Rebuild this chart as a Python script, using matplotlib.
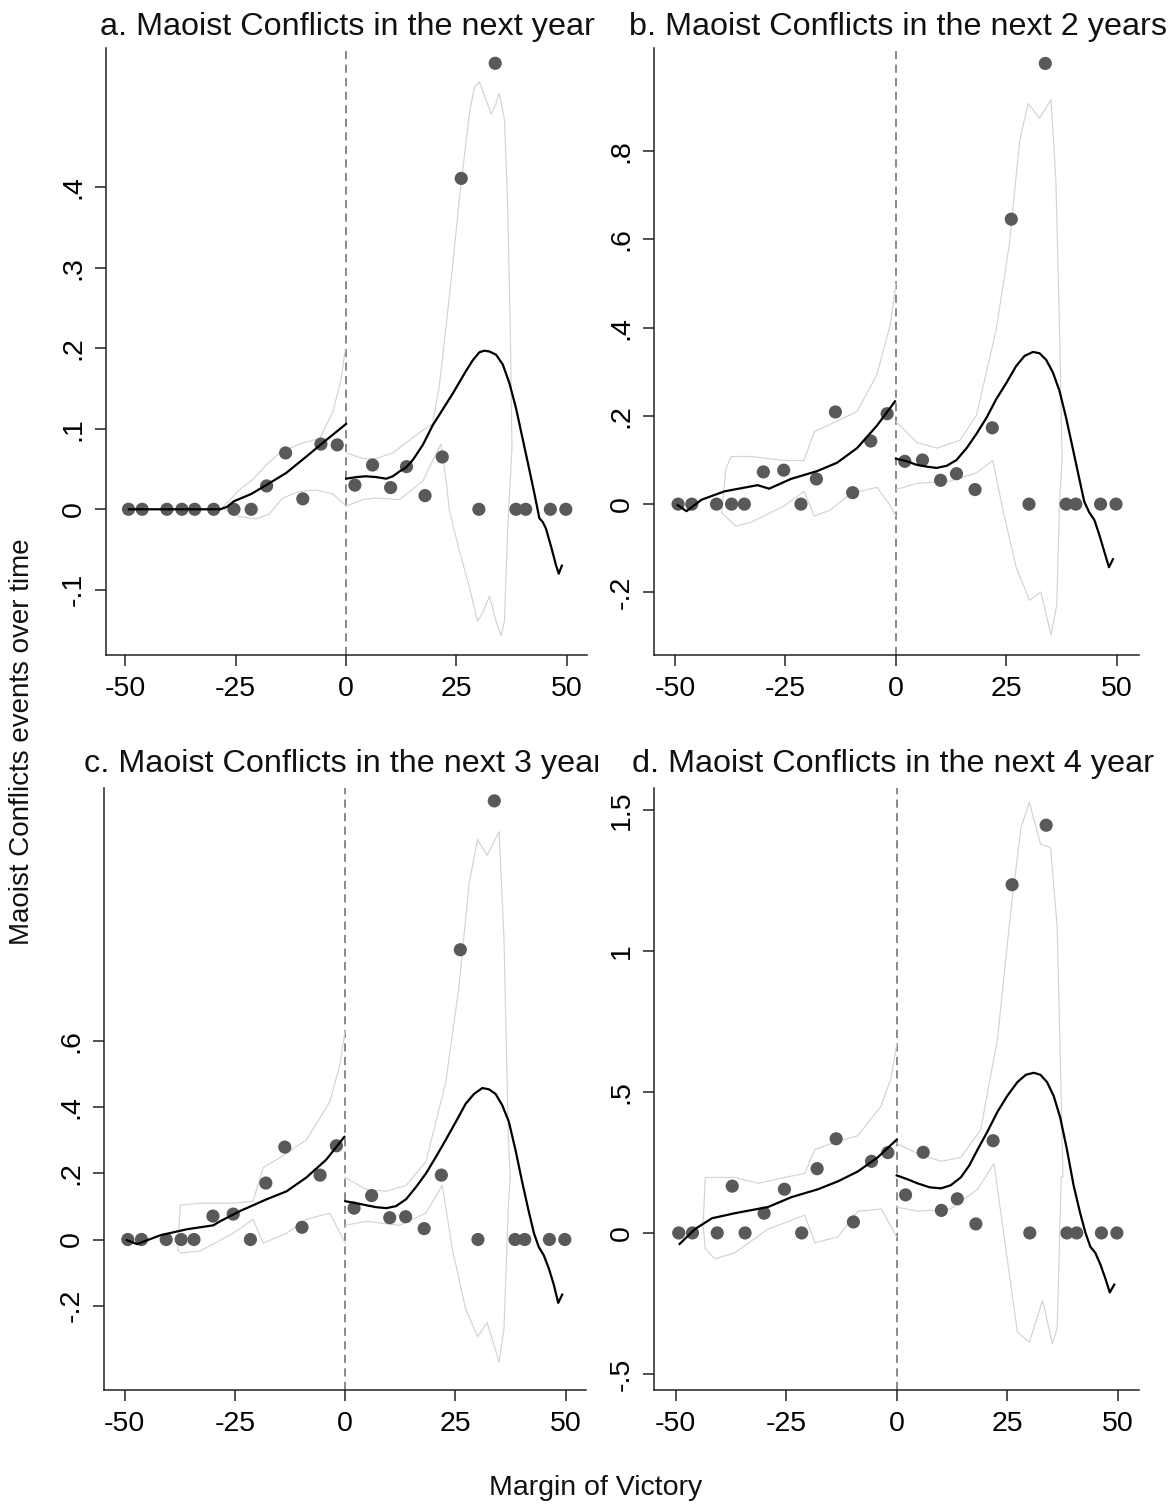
import matplotlib
matplotlib.use("Agg")
import matplotlib.pyplot as plt
from matplotlib.transforms import Bbox, TransformedBbox

plt.rcParams['font.family'] = ['Liberation Sans', 'DejaVu Sans']

# bin centres of the margin of victory (same bins in every panel)
bins_left = [-49.3, -46.2, -40.6, -37.2, -34.3, -30.0, -25.4, -21.5, -18.0, -13.7, -9.8, -5.7, -2.0]
bins_right = [2.0, 6.0, 10.1, 13.7, 17.9, 21.8, 26.1, 30.1, 33.8, 38.5, 40.7, 46.3, 49.8]

# bin means
a_left = [0, 0, 0, 0, 0, 0, 0, 0, 0.029, 0.070, 0.013, 0.081, 0.080]
a_right = [0.030, 0.055, 0.027, 0.053, 0.017, 0.065, 0.411, 0, 0.554, 0, 0, 0, 0]
b_left = [0, 0, 0, 0, 0, 0.073, 0.077, 0, 0.057, 0.209, 0.026, 0.143, 0.205]
b_right = [0.097, 0.100, 0.054, 0.069, 0.033, 0.173, 0.646, 0, 0.999, 0, 0, 0, 0]
c_left = [0, 0, 0, 0, 0, 0.071, 0.077, 0, 0.171, 0.280, 0.037, 0.195, 0.284]
c_right = [0.095, 0.133, 0.066, 0.069, 0.033, 0.195, 0.878, 0, 1.329, 0, 0, 0, 0]
d_left = [0, 0, 0, 0.166, 0, 0.070, 0.155, 0, 0.228, 0.334, 0.039, 0.254, 0.285]
d_right = [0.135, 0.286, 0.080, 0.121, 0.032, 0.327, 1.235, 0, 1.446, 0, 0, 0, 0]

# fitted polynomial, (x, y)
a_fit_l = [(-49.2, 0), (-28.5, 0), (-27, 0.003), (-25.4, 0.010), (-21.5, 0.019), (-18.1, 0.030),
           (-13.6, 0.045), (-9.1, 0.065), (-4.5, 0.086), (0, 0.106)]
a_fit_r = [(0, 0.038), (2.3, 0.040), (4.5, 0.041), (6.8, 0.040), (9.1, 0.038), (10.6, 0.041),
           (12.1, 0.047), (13.6, 0.052), (15.1, 0.061), (17.4, 0.080), (19.6, 0.104), (21.9, 0.124),
           (24.2, 0.144), (25.7, 0.158), (27.2, 0.172), (28.7, 0.185), (30.2, 0.195), (31.3, 0.197),
           (32.5, 0.196), (34.0, 0.192), (35.5, 0.180), (37.0, 0.157), (38.5, 0.126), (40.0, 0.088),
           (41.5, 0.050), (42.7, 0.019), (43.8, -0.011), (44.6, -0.016), (45.3, -0.024),
           (46.5, -0.047), (47.6, -0.070), (48.2, -0.080), (48.9, -0.070)]
b_fit_l = [(-49.4, -0.002), (-47.4, -0.016), (-44, 0.010), (-38.8, 0.029), (-31.3, 0.043),
           (-28.7, 0.035), (-23.8, 0.057), (-17.8, 0.075), (-13.3, 0.094), (-8.8, 0.127),
           (-4.3, 0.178), (-0.2, 0.233)]
b_fit_r = [(0, 0.103), (2.5, 0.097), (4.7, 0.089), (7.0, 0.085), (9.2, 0.082), (11.5, 0.087),
           (13.7, 0.100), (16.0, 0.127), (18.2, 0.159), (20.5, 0.196), (22.7, 0.238), (25.0, 0.275),
           (27.2, 0.313), (29.1, 0.336), (31.0, 0.345), (32.5, 0.342), (34.0, 0.327), (35.5, 0.299),
           (37.0, 0.257), (38.5, 0.196), (40.0, 0.127), (41.5, 0.057), (42.6, 0.006), (43.7, -0.018),
           (44.9, -0.036), (46.0, -0.069), (47.1, -0.106), (48.2, -0.143), (49.1, -0.125)]
c_fit_l = [(-49.5, -0.002), (-47.2, -0.014), (-41.9, 0.013), (-35.9, 0.031), (-29.9, 0.043),
           (-28.4, 0.055), (-23.9, 0.086), (-17.8, 0.122), (-13.3, 0.146), (-8.8, 0.188),
           (-4.3, 0.242), (-0.2, 0.311)]
c_fit_r = [(0, 0.116), (2.5, 0.110), (4.7, 0.104), (7.0, 0.098), (9.3, 0.095), (11.5, 0.101),
           (13.8, 0.122), (16.0, 0.158), (18.3, 0.200), (20.6, 0.251), (22.8, 0.302), (25.1, 0.357),
           (27.3, 0.411), (29.2, 0.441), (31.1, 0.459), (32.6, 0.455), (34.1, 0.441), (35.6, 0.407),
           (37.1, 0.357), (38.6, 0.272), (40.1, 0.176), (41.6, 0.086), (42.8, 0.019), (43.9, -0.023),
           (45.0, -0.047), (46.2, -0.089), (47.3, -0.137), (48.3, -0.192), (49.2, -0.167)]
d_fit_l = [(-49.1, -0.039), (-45.6, 0.014), (-41.8, 0.052), (-36.6, 0.070), (-29.1, 0.092),
           (-23.8, 0.127), (-17.8, 0.155), (-13.3, 0.183), (-8.8, 0.218), (-4.3, 0.268), (0, 0.331)]
d_fit_r = [(0, 0.204), (2.5, 0.190), (4.7, 0.176), (7.4, 0.162), (10.0, 0.158), (12.2, 0.169),
           (14.5, 0.197), (16.4, 0.239), (18.3, 0.296), (20.5, 0.359), (22.8, 0.430), (25.0, 0.486),
           (27.3, 0.535), (29.2, 0.561), (31.0, 0.568), (32.5, 0.561), (34.0, 0.535), (35.5, 0.486),
           (37.0, 0.408), (38.5, 0.296), (40.0, 0.169), (41.5, 0.070), (42.7, 0.0), (43.8, -0.049),
           (44.9, -0.070), (46.1, -0.113), (47.2, -0.162), (48.2, -0.211), (49.2, -0.183)]

# confidence bands, upper and lower, each side of the cutoff
a_up_l = [(-28.1, 0.002), (-24.2, 0.024), (-21.1, 0.037), (-18.1, 0.055), (-15.1, 0.070),
          (-10.6, 0.081), (-6.0, 0.088), (-3.0, 0.121), (-1.1, 0.162), (-0.2, 0.198)]
a_lo_l = [(-28.1, 0.002), (-24.2, -0.009), (-20.4, -0.012), (-17.4, -0.006), (-14.4, 0.014),
          (-10.6, 0.022), (-6.8, 0.024), (-3.0, 0.019), (0, 0.004)]
a_up_r = [(0, 0.070), (3.8, 0.063), (6.8, 0.063), (10.6, 0.070), (14.4, 0.086), (17.4, 0.098),
          (19.6, 0.106), (21.1, 0.152), (22.7, 0.229), (24.2, 0.305), (25.7, 0.387), (28.0, 0.494),
          (29.1, 0.524), (30.2, 0.531), (31.7, 0.509), (32.9, 0.491), (34.0, 0.504), (34.7, 0.517),
          (35.9, 0.484), (36.6, 0.382), (37.2, 0.229), (37.6, 0.076)]
a_lo_r = [(0, 0.004), (3.8, 0.012), (6.8, 0.014), (12.1, 0.012), (17.4, 0.035), (19.6, 0.060),
          (21.5, 0.081), (22.7, 0.035), (23.4, -0.001), (25.7, -0.052), (28.0, -0.098),
          (29.8, -0.139), (30.9, -0.129), (32.5, -0.108), (34.0, -0.139), (35.1, -0.157),
          (35.9, -0.139), (36.6, -0.027), (37.6, 0.076)]
b_up_l = [(-39.4, -0.02), (-38.5, 0.08), (-37.3, 0.108), (-32.8, 0.108), (-25.3, 0.099),
          (-20.8, 0.099), (-18.5, 0.164), (-15.5, 0.178), (-8.8, 0.210), (-4.3, 0.294),
          (-1.3, 0.406), (0, 0.5)]
b_lo_l = [(-39.4, -0.02), (-36.2, -0.05), (-32.8, -0.041), (-25.3, -0.004), (-20.8, 0.029),
          (-18.5, -0.027), (-14.8, -0.013), (-10.3, 0.024), (-4.3, 0.038), (-1.5, 0.0), (0, -0.027)]
b_up_r = [(0, 0.187), (4.7, 0.140), (9.2, 0.127), (14.5, 0.145), (18.2, 0.201), (22.7, 0.396),
          (25.7, 0.592), (28.0, 0.824), (29.9, 0.908), (32.5, 0.875), (35.1, 0.917), (36.2, 0.731),
          (37.0, 0.405), (37.6, 0.10)]
b_lo_r = [(0, 0.033), (4.7, 0.047), (12.2, 0.052), (18.2, 0.071), (21.9, 0.099), (24.2, -0.013),
          (27.2, -0.143), (30.2, -0.218), (32.8, -0.199), (35.1, -0.297), (36.4, -0.227),
          (37.0, 0.0), (37.6, 0.10)]
c_up_l = [(-38.0, -0.03), (-37.4, 0.104), (-32.9, 0.110), (-25.4, 0.110), (-20.9, 0.116),
          (-18.6, 0.218), (-14.8, 0.248), (-8.8, 0.302), (-3.5, 0.417), (-1.3, 0.525), (0, 0.634)]
c_lo_l = [(-38.0, -0.03), (-37.4, -0.041), (-32.9, -0.035), (-25.4, 0.019), (-20.9, 0.061),
          (-18.6, -0.011), (-13.3, 0.019), (-8.8, 0.061), (-3.5, 0.080), (0, -0.011)]
c_up_r = [(0, 0.188), (4.7, 0.152), (9.3, 0.146), (13.8, 0.164), (18.3, 0.236), (22.8, 0.477),
          (25.8, 0.766), (28.1, 1.080), (30.0, 1.212), (32.2, 1.164), (34.9, 1.236), (36.0, 0.911),
          (37.0, 0.308), (37.4, 0.19)]
c_lo_r = [(0, 0.043), (4.7, 0.055), (12.3, 0.043), (18.3, 0.080), (22.0, 0.164), (24.3, -0.029),
          (27.3, -0.210), (30.0, -0.294), (32.2, -0.252), (34.9, -0.372), (36.0, -0.270),
          (37.0, 0.10), (37.4, 0.19)]
d_up_l = [(-43.8, 0.03), (-43.3, 0.197), (-36.6, 0.197), (-31.3, 0.176), (-25.3, 0.197),
          (-20.8, 0.211), (-18.5, 0.296), (-14.8, 0.317), (-8.8, 0.345), (-3.5, 0.451),
          (-1.3, 0.549), (0, 0.669)]
d_lo_l = [(-43.8, 0.03), (-43.3, -0.056), (-41.1, -0.092), (-36.6, -0.070), (-29.1, 0.014),
          (-20.8, 0.063), (-18.5, -0.035), (-13.3, -0.014), (-8.8, 0.077), (-3.5, 0.085), (0, -0.014)]
d_up_r = [(0, 0.317), (4.7, 0.282), (10.0, 0.254), (14.5, 0.268), (19.0, 0.366), (22.8, 0.690),
          (25.8, 1.141), (28.1, 1.437), (30.0, 1.528), (32.5, 1.380), (34.8, 1.366), (36.3, 1.085),
          (37.2, 0.479), (37.6, 0.2)]
d_lo_r = [(0, 0.092), (4.7, 0.077), (12.2, 0.085), (18.3, 0.155), (22.0, 0.246), (24.3, -0.014),
          (27.3, -0.352), (30.0, -0.387), (33.0, -0.239), (35.2, -0.394), (36.3, -0.338),
          (37.2, 0.197), (37.6, 0.2)]

titles = ["a. Maoist Conflicts in the next year",
          "b. Maoist Conflicts in the next 2 years",
          "c. Maoist Conflicts in the next 3 years",
          "d. Maoist Conflicts in the next 4 year"]
yticks_a = [-0.1, 0, 0.1, 0.2, 0.3, 0.4]
yticks_b = [-0.2, 0, 0.2, 0.4, 0.6, 0.8]
yticks_c = [-0.2, 0, 0.2, 0.4, 0.6]
yticks_d = [-0.5, 0, 0.5, 1, 1.5]
xticks = [-50, -25, 0, 25, 50]


def stata_lbl(v):
    # Stata style: no leading zero
    s = ("%g" % round(v, 3))
    return s.replace("0.", ".")


W, H = 1169, 1506
fig = plt.figure(figsize=(W / 100, H / 100), dpi=100)
fig.patch.set_facecolor("white")


def make_axes(l, r, t, b):
    return fig.add_axes([l / W, 1 - b / H, (r - l) / W, (b - t) / H])


# pixel boxes of the four plot regions and their axis ranges
panels = [
    dict(box=(106, 587, 48, 655), xlim=(-54.4, 54.6), ylim=(-0.181, 0.573), yt=yticks_a,
         left=(bins_left, a_left), right=(bins_right, a_right), fits=(a_fit_l, a_fit_r),
         bands=(a_up_l, a_lo_l, a_up_r, a_lo_r)),
    dict(box=(654, 1139, 48, 655), xlim=(-54.75, 55.0), ylim=(-0.342, 1.034), yt=yticks_b,
         left=(bins_left, b_left), right=(bins_right, b_right), fits=(b_fit_l, b_fit_r),
         bands=(b_up_l, b_lo_l, b_up_r, b_lo_r)),
    dict(box=(104, 586, 788, 1390), xlim=(-54.7, 54.6), ylim=(-0.456, 1.368), yt=yticks_c,
         left=(bins_left, c_left), right=(bins_right, c_right), fits=(c_fit_l, c_fit_r),
         bands=(c_up_l, c_lo_l, c_up_r, c_lo_r)),
    dict(box=(654, 1139, 788, 1390), xlim=(-54.9, 54.8), ylim=(-0.557, 1.578), yt=yticks_d,
         left=(bins_left, d_left), right=(bins_right, d_right), fits=(d_fit_l, d_fit_r),
         bands=(d_up_l, d_lo_l, d_up_r, d_lo_r)),
]

for p in panels:
    ax = make_axes(*p["box"])
    ax.set_xlim(*p["xlim"])
    ax.set_ylim(*p["ylim"])

    for band in p["bands"]:
        ax.plot([q[0] for q in band], [q[1] for q in band], color="#d3d3d3", lw=0.85, zorder=2,
                solid_joinstyle="round")

    for xs, ys in (p["left"], p["right"]):
        ax.scatter(xs, ys, s=90, color="#595959", edgecolors="none", zorder=3)

    for fit in p["fits"]:
        ax.plot([q[0] for q in fit], [q[1] for q in fit], color="black", lw=1.6, zorder=4,
                solid_joinstyle="round")

    ax.axvline(0, color="#808080", lw=1.3, dashes=(4.5, 3), zorder=1)

    for s in ("top", "right"):
        ax.spines[s].set_visible(False)
    for s in ("left", "bottom"):
        ax.spines[s].set_linewidth(1.1)
        ax.spines[s].set_color("#222222")

    ax.set_xticks(xticks)
    ax.set_xticklabels([str(t) for t in xticks])
    ax.set_yticks(p["yt"])
    ax.set_yticklabels([stata_lbl(t) for t in p["yt"]], rotation=90, va="center")
    ax.tick_params(axis="both", length=8, width=1.1, color="#222222", labelsize=20.5)
    ax.tick_params(axis="x", pad=7)
    ax.tick_params(axis="y", pad=6)

# panel titles; the third one runs into the next column and is cut there
title_pos = [(100, 35, None), (629, 35, None), (84, 772, 598), (632, 772, None)]
for txt, (x0, y0, xclip) in zip(titles, title_pos):
    t = fig.text(x0 / W, 1 - y0 / H, txt, fontsize=23.3, ha="left", va="baseline", color="#111111")
    if xclip is not None:
        clip = TransformedBbox(Bbox([[0, 0], [xclip / W, 1]]), fig.transFigure)
        t.set_clip_box(clip)
        t.set_clip_on(True)

fig.text(22 / W, 1 - 742 / H, "Maoist Conflicts events over time", rotation=90,
         ha="center", va="center", fontsize=20, color="#111111")
fig.text(596 / W, 1 - 1488 / H, "Margin of Victory", ha="center", va="center",
         fontsize=20.5, color="#111111")

fig.savefig("out.png", dpi=100, facecolor="white")
